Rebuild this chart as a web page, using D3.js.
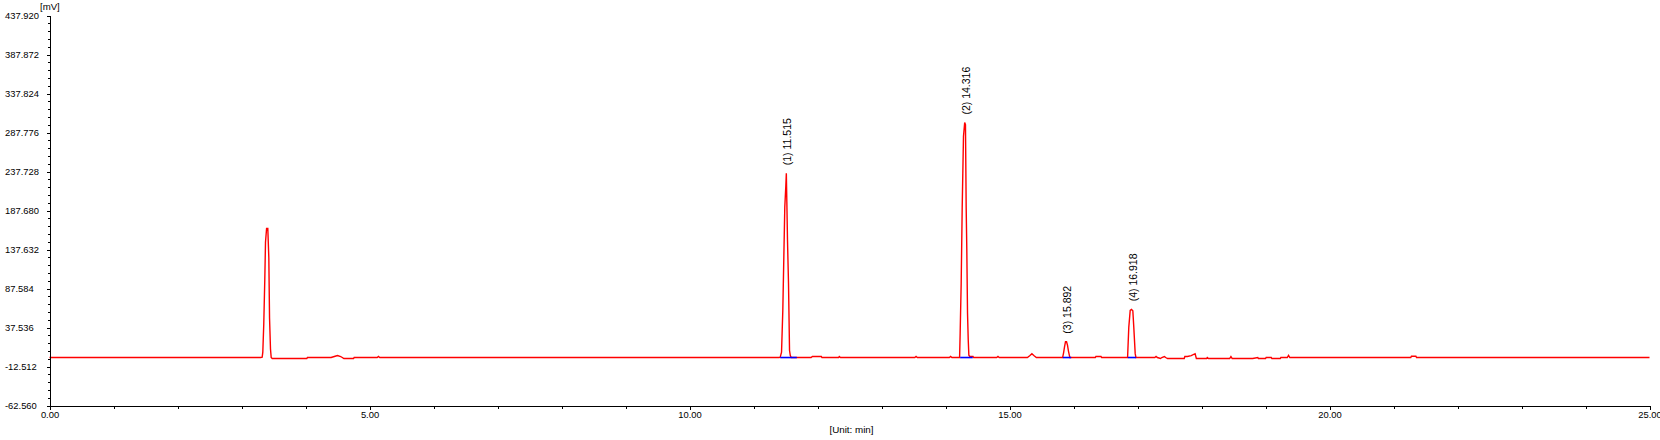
<!DOCTYPE html>
<html>
<head>
<meta charset="utf-8">
<script src="https://cdn.jsdelivr.net/npm/d3@7"></script>
<style>
  html, body { margin: 0; padding: 0; background: #fff; }
  svg { display: block; font-family: "Liberation Sans", Arial, sans-serif; }
</style>
</head>
<body>
<svg id="chart" width="1660" height="440"></svg>
<script>
// ---- Data ----
const traceTimes = [
  0.00, 3.300, 3.323, 3.333, 3.348, 3.364, 3.375, 3.392, 3.411, 3.427, 3.438, 3.453, 3.464, 3.480,
  4.020, 4.030, 4.400, 4.450, 4.500, 4.550, 4.600, 4.750, 4.760, 5.120, 5.140, 5.160,
  11.400, 11.417, 11.438, 11.458, 11.474, 11.489, 11.505, 11.513, 11.521, 11.531, 11.547, 11.563, 11.575, 11.590,
  11.900, 11.920, 12.060, 12.070, 12.330, 12.340, 12.360, 13.520, 13.540, 13.560, 14.060, 14.080, 14.100,
  14.220, 14.229, 14.245, 14.261, 14.281, 14.300, 14.312, 14.323, 14.333, 14.344, 14.355, 14.365, 14.380, 14.430, 14.440,
  14.800, 14.820, 14.840, 15.280, 15.320, 15.350, 15.380, 15.420,
  15.830, 15.845, 15.859, 15.875, 15.891, 15.906, 15.922, 15.943,
  16.340, 16.350, 16.430, 16.440,
  16.845, 16.864, 16.886, 16.906, 16.927, 16.942, 16.964, 16.976,
  17.270, 17.290, 17.310, 17.360, 17.380, 17.420, 17.440, 17.470, 17.730, 17.740, 17.780, 17.840, 17.900, 17.920,
  18.080, 18.090, 18.110, 18.440, 18.460, 18.480, 18.800, 18.880, 18.890, 19.000, 19.010, 19.090, 19.100, 19.230, 19.240,
  19.340, 19.360, 19.380, 21.270, 21.280, 21.350, 21.360, 25.00
];
const traceValues = [
  -1.0, -1.0, -0.5, 5.9, 42.0, 99.0, 147.0, 164.5, 164.5, 127.0, 50.0, 10.0, -1.0, -2.3,
  -2.3, -1.0, -1.0, 0.3, 1.6, 0.3, -2.3, -2.3, -1.0, -1.0, 0.3, -1.0,
  -1.0, -0.5, 5.9, 59.5, 128.0, 192.0, 219.0, 235.5, 199.0, 150.0, 94.0, 8.0, 1.5, -1.0,
  -1.0, 0.3, 0.3, -1.0, -1.0, 0.3, -1.0, -1.0, 0.3, -1.0, -1.0, 0.3, -1.0,
  -1.0, 30.0, 94.0, 192.0, 283.0, 300.5, 298.0, 192.0, 137.0, 56.0, 22.0, 2.0, 0.3, 0.3, -1.0,
  -1.0, 0.3, -1.0, -1.0, 1.5, 3.8, 1.5, -1.0,
  -1.0, 5.0, 12.3, 19.3, 19.3, 15.0, 7.0, -1.0,
  -1.0, 0.3, 0.3, -1.0,
  -1.0, 38.0, 59.5, 60.8, 59.0, 38.0, 4.0, -1.0,
  -1.0, 0.3, -1.0, -2.3, -1.0, 0.3, -1.0, -2.3, -2.3, 0.3, 0.3, 1.5, 3.9, -2.3,
  -2.3, -1.0, -2.3, -2.3, 0.3, -2.3, -2.3, -1.0, -2.3, -2.3, -1.0, -1.0, -2.3, -2.3, -1.0,
  -1.0, 1.7, -1.0, -1.0, 0.6, 0.6, -1.0, -1.0
];

// Integrated peaks
const peakTimes  = [11.515, 14.316, 15.892, 16.918];
const peakLabels = ["(1) 11.515", "(2) 14.316", "(3) 15.892", "(4) 16.918"];
const peakStarts = [11.417, 14.229, 15.833, 16.849];
const peakEnds   = [11.677, 14.426, 15.964, 16.979];
const peakBase   = [-1.0, -1.0, -1.0, -1.0];

// Axes
const yTickLabels = ["-62.560", "-12.512", "37.536", "87.584", "137.632", "187.680",
                     "237.728", "287.776", "337.824", "387.872", "437.920"];
const xTickLabels = ["0.00", "5.00", "10.00", "15.00", "20.00", "25.00"];
const xMinorStep = 1;
const yMinorPerMajor = 5;
const yUnit = "[mV]";
const xUnit = "[Unit: min]";

// ---- Drawing ----
const svg = d3.select("#chart");
const yMajor = yTickLabels.map(Number);
const xMajor = xTickLabels.map(Number);

const x = d3.scaleLinear().domain([xMajor[0], xMajor[xMajor.length - 1]]).range([49.5, 1649.5]);
const y = d3.scaleLinear().domain([yMajor[0], yMajor[yMajor.length - 1]]).range([405.5, 15.5]);

// minor tick values
const yMinor = [];
for (let i = 0; i < yMajor.length - 1; i++) {
  const step = (yMajor[i + 1] - yMajor[i]) / yMinorPerMajor;
  for (let k = 1; k < yMinorPerMajor; k++) yMinor.push(yMajor[i] + k * step);
}
const xMinor = d3.range(xMajor[0], xMajor[xMajor.length - 1] + 1e-9, xMinorStep)
  .filter(v => !xMajor.includes(v));

// trace
const trace = traceTimes.map((t, i) => [t, traceValues[i]]);
const line = d3.line().x(d => x(d[0])).y(d => y(d[1]));

svg.append("path")
  .datum(trace)
  .attr("d", line)
  .attr("fill", "none")
  .attr("stroke", "#ff0000")
  .attr("stroke-width", 1.4)
  .attr("stroke-linejoin", "miter");

// integration baselines
svg.append("g").selectAll("line")
  .data(peakStarts)
  .join("line")
  .attr("x1", (d) => x(d))
  .attr("x2", (d, i) => x(peakEnds[i]))
  .attr("y1", (d, i) => y(peakBase[i]))
  .attr("y2", (d, i) => y(peakBase[i]))
  .attr("stroke", "#0000ff")
  .attr("stroke-width", 1.6);

// X axis
const xAxisG = svg.append("g").attr("transform", "translate(0,405.5)");
xAxisG.call(d3.axisBottom(x).tickValues(xMajor).tickFormat((d, i) => xTickLabels[i])
  .tickSize(4).tickSizeOuter(0).tickPadding(2));
xAxisG.append("g").call(d3.axisBottom(x).tickValues(xMinor).tickFormat("").tickSize(3).tickSizeOuter(0))
  .select(".domain").remove();

// Y axis
const yAxisG = svg.append("g").attr("transform", "translate(49.5,0)");
yAxisG.call(d3.axisLeft(y).tickValues(yMajor).tickFormat((d, i) => yTickLabels[i])
  .tickSize(3).tickSizeOuter(0));
yAxisG.append("g").call(d3.axisLeft(y).tickValues(yMinor).tickFormat("").tickSize(2).tickSizeOuter(0))
  .select(".domain").remove();
yAxisG.selectAll(".tick text")
  .attr("x", 5 - 49.5)
  .attr("text-anchor", "start")
  .attr("dy", "0.35em");

svg.selectAll(".domain, .tick line")
  .attr("stroke", "#000")
  .attr("shape-rendering", "crispEdges");
svg.selectAll(".tick text")
  .attr("fill", "#000")
  .attr("font-size", 9.4)
  .attr("font-family", "'Liberation Sans', Arial, sans-serif");

// Unit labels
svg.append("text")
  .attr("x", 40).attr("y", 10)
  .attr("font-size", 9.6)
  .attr("fill", "#000")
  .text(yUnit);
svg.append("text")
  .attr("x", (x.range()[0] + x.range()[1]) / 2 + 2).attr("y", 432.5)
  .attr("text-anchor", "middle")
  .attr("font-size", 9.8)
  .attr("fill", "#000")
  .text(xUnit);

// Peak labels (rotated), positioned above each apex
svg.append("g").selectAll("text")
  .data(peakTimes)
  .join("text")
  .attr("transform", (t) => {
    const near = trace.filter(p => Math.abs(p[0] - t) < 0.05);
    const apex = d3.max(near, p => p[1]);
    return `translate(${x(t) + 1},${y(apex) - 8}) rotate(-90)`;
  })
  .attr("text-anchor", "start")
  .attr("dy", "0.35em")
  .attr("font-size", 10.5)
  .attr("fill", "#000")
  .text((d, i) => peakLabels[i]);
</script>
</body>
</html>
